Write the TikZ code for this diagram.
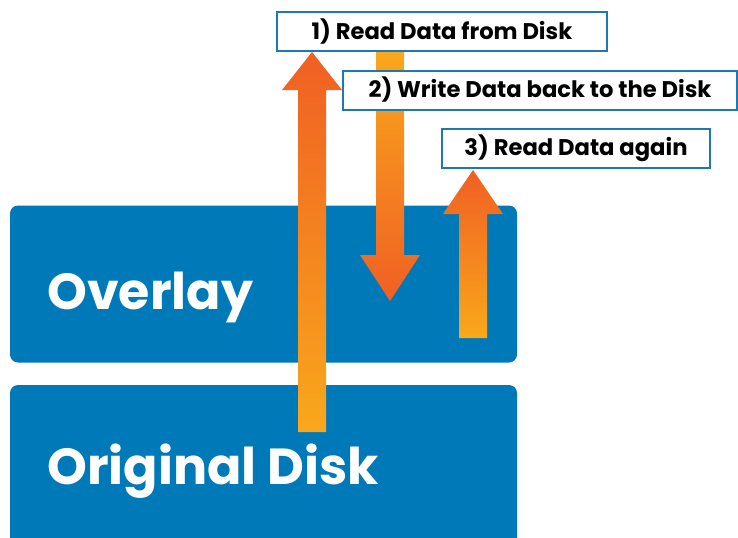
\documentclass[tikz,border=0pt]{standalone}
\usepackage{fontspec}
\setmainfont{Poppins}
\definecolor{diskblue}{RGB}{0,121,184}
\definecolor{noteblue}{RGB}{30,120,180}
\definecolor{arrowred}{RGB}{240,95,35}
\definecolor{arrowyellow}{RGB}{249,168,28}
% x, tail y, head base y, tip y, top colour, bottom colour
\newcommand{\fatarrow}[6]{\shade[top color=#5, bottom color=#6]
  (#1-14,#2) -- (#1-14,#3) -- (#1-30,#3) -- (#1,#4) -- (#1+30,#3) -- (#1+14,#3) -- (#1+14,#2) -- cycle;}

\begin{document}
\begin{tikzpicture}[x=0.75pt, y=-0.75pt,
    disk/.style={fill=diskblue, rounded corners=6pt, minimum width=380.25pt, inner sep=0pt},
    disktext/.style={text=white, inner sep=0pt, font=\fontsize{38}{38}\selectfont\bfseries},
    notebox/.style={draw=noteblue, line width=1.5pt, fill=white, inner sep=0pt, minimum height=29.25pt,
      font=\fontsize{17}{17}\selectfont\bfseries}]
    \clip (0,0) rectangle (738,537);
    \node [disk, minimum height=117.75pt] (overlay) at (263.5,284) {};
    \node [disk, minimum height=127.5pt] (original) at (263.5,470) {};
    \node [disktext, anchor=base west] (overlaytext) at (47,309) {Overlay};
    \node [disktext, anchor=base west] (originaltext) at (47,484) {Original Disk};
    \fatarrow{312}{432}{90}{52}{arrowred}{arrowyellow}
    \fatarrow{390}{51}{255}{301}{arrowyellow}{arrowred}
    \fatarrow{473}{338}{214}{170}{arrowred}{arrowyellow}
    \node [notebox, minimum width=247.5pt] (read) at (442,31.5) {1) Read Data from Disk};
    \node [notebox, minimum width=295.5pt] (write) at (540,90) {2) Write Data back to the Disk};
    \node [notebox, minimum width=201pt] (again) at (576,148.5) {3) Read Data again};
\end{tikzpicture}
\end{document}
